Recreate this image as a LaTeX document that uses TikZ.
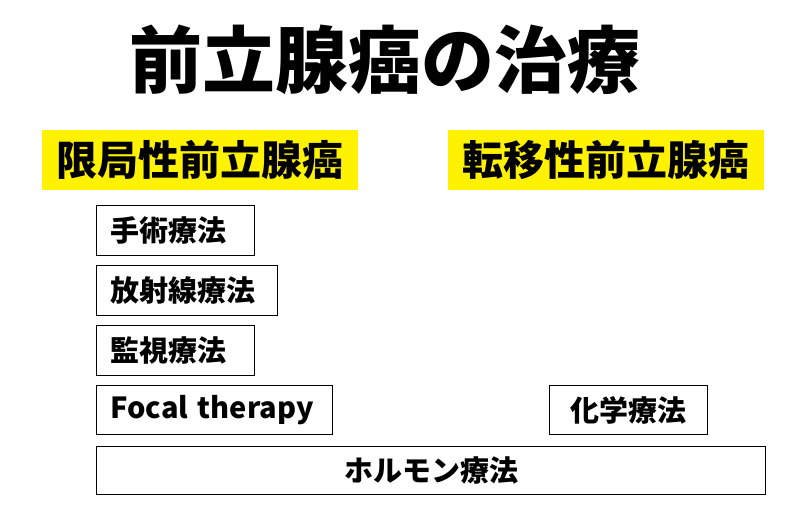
\documentclass[tikz,border=0pt]{standalone}
\usepackage{fontspec}
\setmainfont{Noto Sans CJK JP}
\begin{document}
\begin{tikzpicture}[x=1pt,y=-1pt,
  box/.style={draw=black,line width=1pt,anchor=north west,inner sep=0pt,font=\bfseries\fontsize{29}{29}\selectfont},
  hl/.style={fill=yellow,anchor=north west,inner sep=0pt,font=\bfseries\fontsize{41}{41}\selectfont}]
\useasboundingbox (0,0) rectangle (800,516);
\node[font=\bfseries\fontsize{73}{73}\selectfont] (title) at (385,60) {前立腺癌の治療};
\node[hl,minimum width=316pt,minimum height=60pt] (loc) at (42,130) {限局性前立腺癌};
\node[hl,minimum width=316pt,minimum height=60pt] (met) at (448,130) {転移性前立腺癌};
\node[box,minimum width=158pt,minimum height=50pt,text width=146pt] (a) at (96,205) {\hspace*{8pt}手術療法};
\node[box,minimum width=181pt,minimum height=50pt,text width=169pt] (b) at (96,265) {\hspace*{8pt}放射線療法};
\node[box,minimum width=158pt,minimum height=50pt,text width=146pt] (c) at (96,325) {\hspace*{8pt}監視療法};
\node[box,minimum width=236pt,minimum height=49pt,text width=224pt] (d) at (96,385) {\hspace*{8pt}Focal therapy};
\node[box,minimum width=158pt,minimum height=49pt] (e) at (549,385) {化学療法};
\node[box,minimum width=669pt,minimum height=48pt] (f) at (96,446) {ホルモン療法};
\end{tikzpicture}
\end{document}
